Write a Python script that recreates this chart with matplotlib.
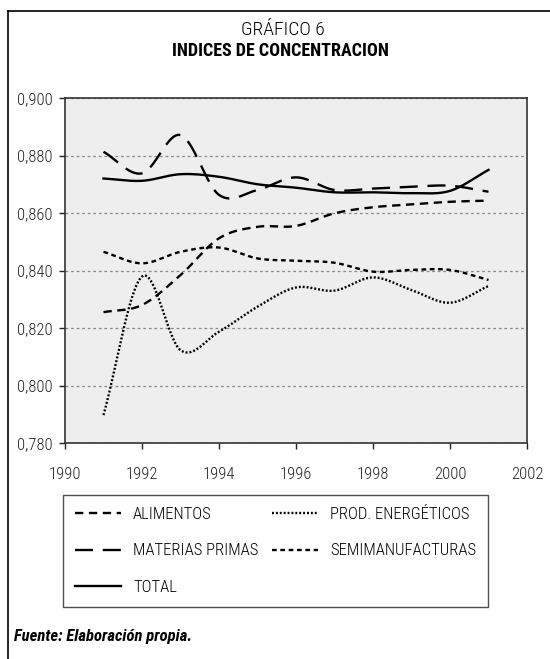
import matplotlib
matplotlib.use("Agg")
import matplotlib.pyplot as plt
import matplotlib.lines as mlines
import numpy as np

plt.rcParams['font.family'] = ['Roboto Condensed', 'DejaVu Sans']
plt.rcParams['font.weight'] = 'light'
plt.rcParams['lines.scale_dashes'] = False

years = [1991, 1992, 1993, 1994, 1995, 1996, 1997, 1998, 1999, 2000, 2001]

alimentos = [0.8255, 0.8280, 0.8384, 0.8512, 0.8552, 0.8555, 0.8599, 0.8620, 0.8630, 0.8639, 0.8643]
prod_energeticos = [0.7897, 0.8379, 0.8123, 0.8187, 0.8274, 0.8341, 0.8330, 0.8376, 0.8332, 0.8288, 0.8346]
materias_primas = [0.8813, 0.8738, 0.8871, 0.8663, 0.8680, 0.8724, 0.8680, 0.8685, 0.8691, 0.8695, 0.8674]
semimanufacturas = [0.8465, 0.8425, 0.8465, 0.8480, 0.8442, 0.8434, 0.8427, 0.8396, 0.8402, 0.8402, 0.8367]
total = [0.8720, 0.8712, 0.8735, 0.8726, 0.8700, 0.8688, 0.8672, 0.8672, 0.8669, 0.8677, 0.8750]

x_ticks = [1990, 1992, 1994, 1996, 1998, 2000, 2002]
y_ticks = [0.78, 0.80, 0.82, 0.84, 0.86, 0.88, 0.90]


def smooth(xs, ys, n=30):
    # Catmull-Rom curve through the points, like Excel's smoothed lines
    xs = np.asarray(xs, float)
    ys = np.asarray(ys, float)
    px = np.concatenate([[2 * xs[0] - xs[1]], xs, [2 * xs[-1] - xs[-2]]])
    py = np.concatenate([[2 * ys[0] - ys[1]], ys, [2 * ys[-1] - ys[-2]]])
    t = np.linspace(0, 1, n, endpoint=False)
    ox, oy = [], []
    for i in range(1, len(px) - 2):
        for p, o in ((px, ox), (py, oy)):
            p0, p1, p2, p3 = p[i - 1], p[i], p[i + 1], p[i + 2]
            o.extend(0.5 * (2 * p1 + (-p0 + p2) * t
                            + (2 * p0 - 5 * p1 + 4 * p2 - p3) * t ** 2
                            + (-p0 + 3 * p1 - 3 * p2 + p3) * t ** 3))
    ox.append(xs[-1])
    oy.append(ys[-1])
    return np.array(ox), np.array(oy)


W, H = 550, 659
fig = plt.figure(figsize=(5.5, 6.59), dpi=100)
ax = fig.add_axes([65 / W, 1 - 443 / H, (527 - 65) / W, (443 - 98) / H])
ax.set_facecolor('#eeeeee')

# legend order: row-wise in the reference, legend fills column-wise
series = [
    ('ALIMENTOS', alimentos, (0, (6, 4))),
    ('MATERIAS PRIMAS', materias_primas, (0, (13, 7))),
    ('TOTAL', total, '-'),
    ('PROD. ENERGÉTICOS', prod_energeticos, (0, (1.4, 1.4))),
    ('SEMIMANUFACTURAS', semimanufacturas, (0, (3.4, 2.6))),
]

handles = []
for name, vals, ls in series:
    sx, sy = smooth(years, vals)
    line, = ax.plot(sx, sy, color='black', linewidth=1.7, linestyle=ls, label=name)
    handles.append(line)

ax.set_xlim(1990, 2002)
ax.set_ylim(0.78, 0.90)
ax.set_xticks(x_ticks)
ax.set_yticks(y_ticks)
ax.set_yticklabels([f"{v:.3f}".replace('.', ',') for v in y_ticks])
ax.tick_params(direction='out', length=4, width=1, labelsize=12, colors='#222222')
ax.tick_params(axis='x', pad=13)
ax.tick_params(axis='y', pad=5)
ax.yaxis.grid(True, linestyle=(0, (2, 2)), color='#8a8a8a', linewidth=0.9)
ax.set_axisbelow(True)
for s in ax.spines.values():
    s.set_color('#333333')
    s.set_linewidth(1.2)

fig.text(0.515, 1 - 30 / H, "GRÁFICO 6", ha='center', va='center', fontsize=14)
fig.text(0.51, 1 - 51 / H, "INDICES DE CONCENTRACION", ha='center', va='center',
         fontsize=13, fontweight='bold')

leg = fig.legend(handles=handles, ncol=2, loc='upper left',
                 bbox_to_anchor=(63 / W, 1 - 495 / H), fontsize=12,
                 frameon=True, fancybox=False, edgecolor='#222222', handlelength=2.8,
                 columnspacing=0.8, handletextpad=0.7, labelspacing=1.3,
                 borderpad=0.7, borderaxespad=0)
leg.get_frame().set_linewidth(1.0)

fig.text(14 / W, 1 - 637 / H, "Fuente: Elaboración propia.", ha='left', va='center',
         fontsize=12, fontstyle='italic', fontweight='bold')

# outer frame (open at the right and bottom edges)
fig.add_artist(mlines.Line2D([7.5 / W, 1.0], [1 - 10.5 / H, 1 - 10.5 / H],
                             transform=fig.transFigure, color='black', linewidth=1.2))
fig.add_artist(mlines.Line2D([7.5 / W, 7.5 / W], [1 - 10.5 / H, 0.0],
                             transform=fig.transFigure, color='black', linewidth=1.2))

fig.savefig("out.png", dpi=100)
